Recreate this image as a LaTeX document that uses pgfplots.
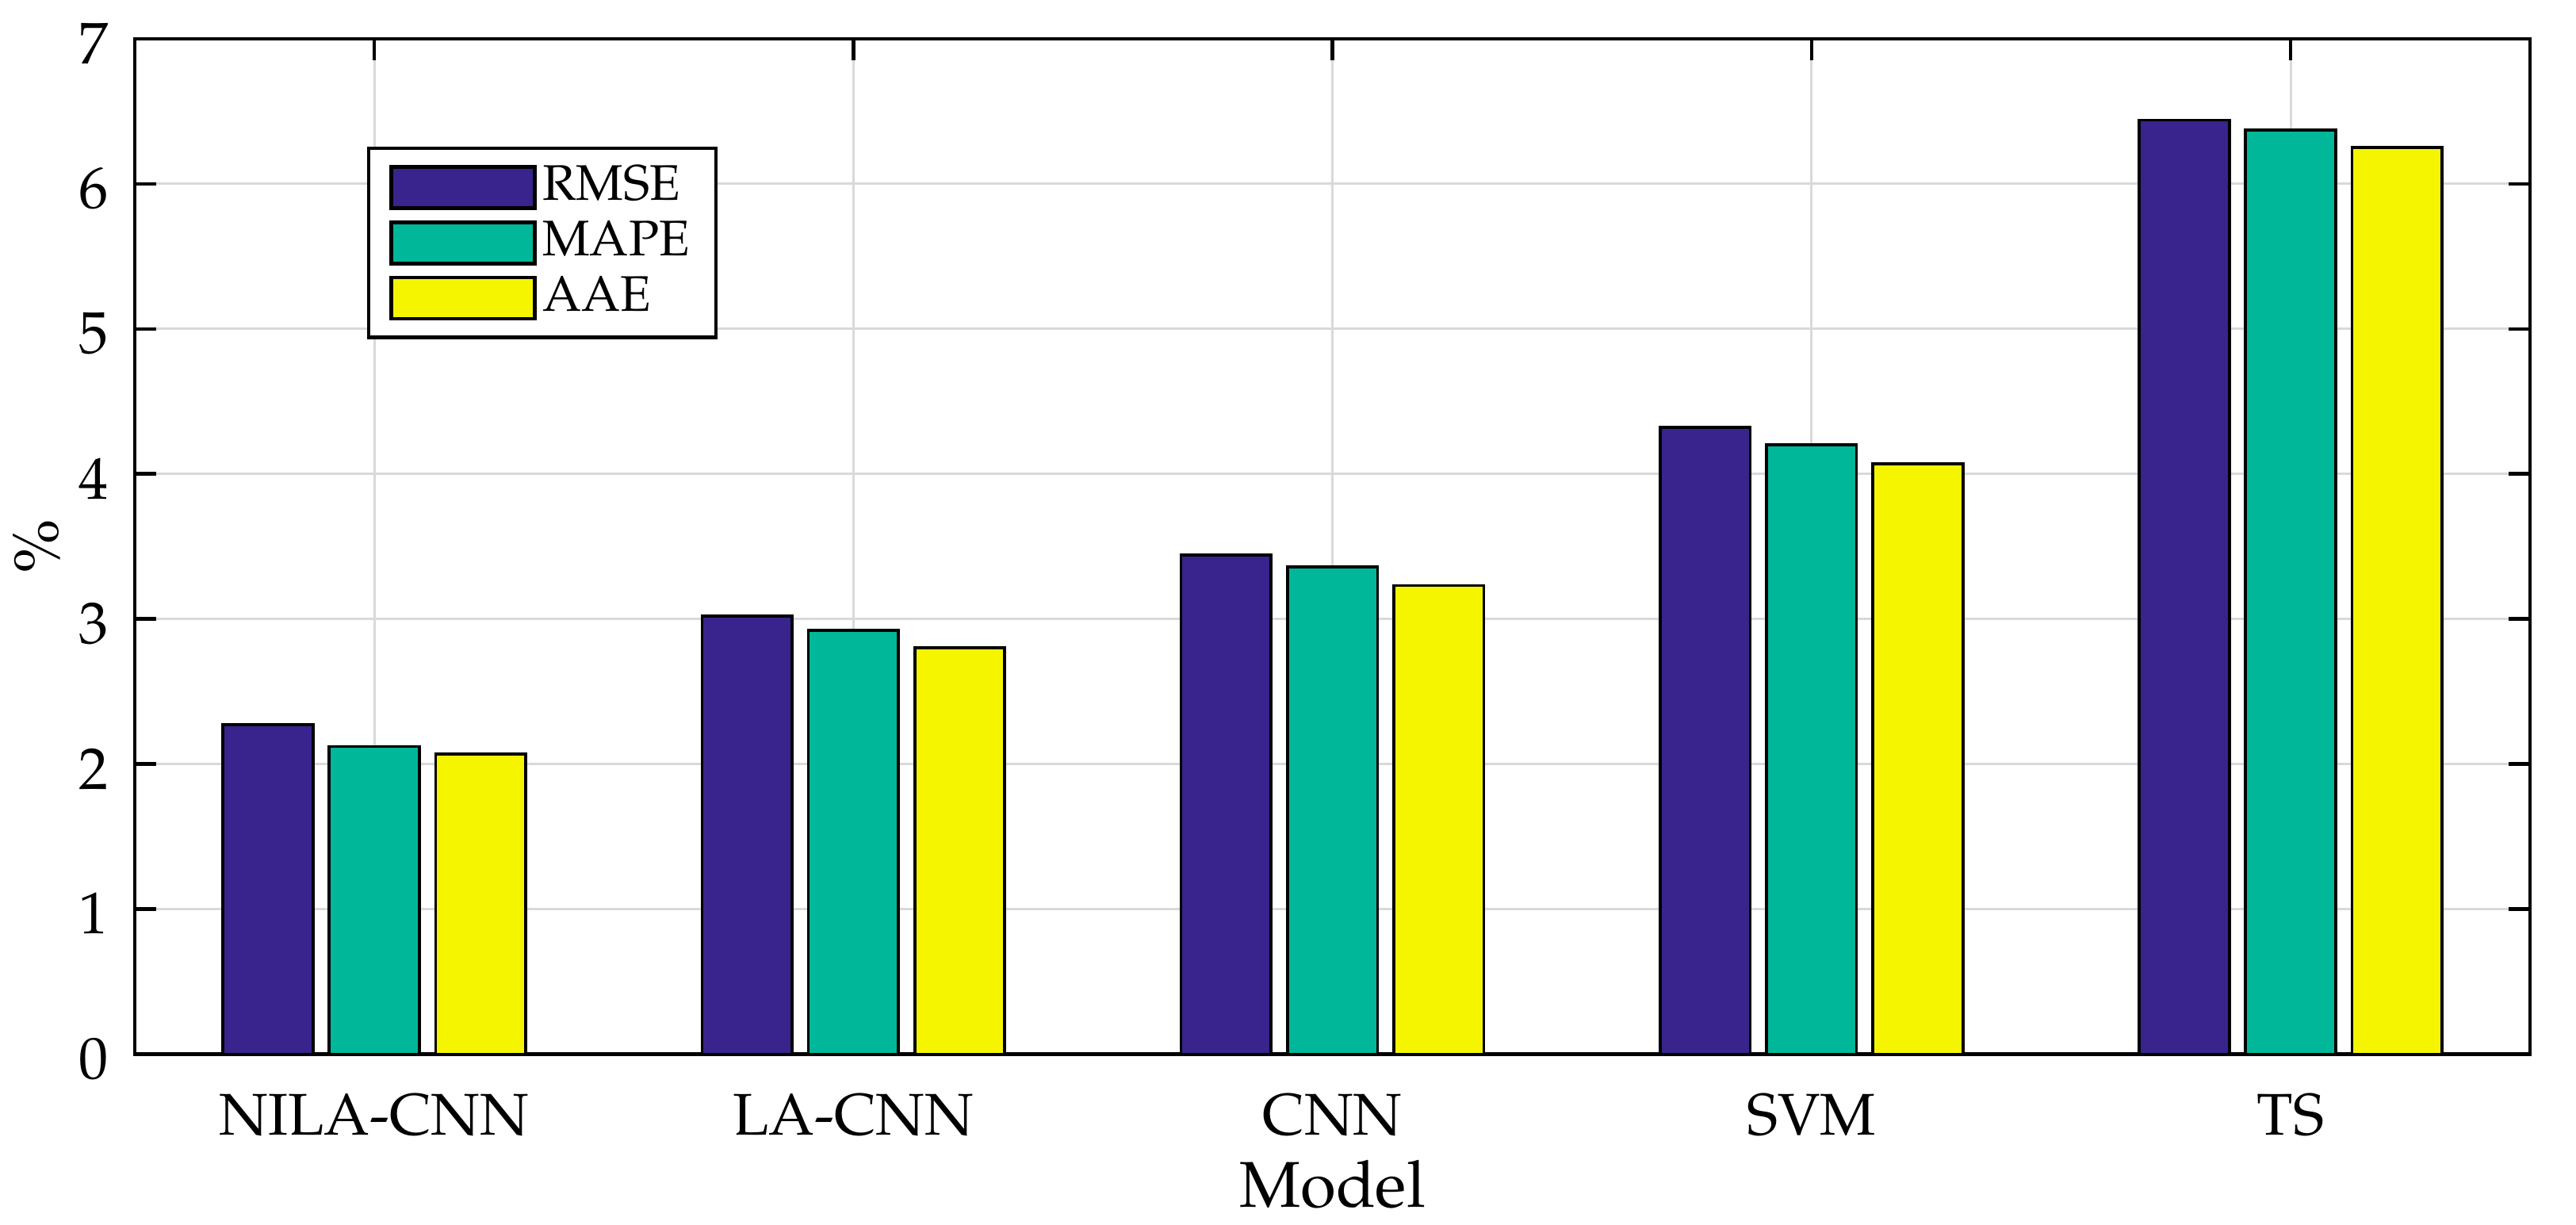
\documentclass[border=0pt]{standalone}
\usepackage[T1]{fontenc}
\usepackage{mathpazo}
\usepackage{pgfplots}
\pgfplotsset{compat=1.18}
\definecolor{crmse}{RGB}{56,36,140}
\definecolor{cmape}{RGB}{0,183,153}
\definecolor{caae}{RGB}{245,245,0}
\begin{document}
\begin{tikzpicture}
\pgfplotsset{
  boxleg/.style={legend image code/.code={\draw[##1,line width=0.6pt] (0pt,-3.5pt) rectangle (24.4pt,3.5pt);}},
}
\begin{axis}[
  name=ax,
  width=407pt, height=172.5pt, scale only axis,
  ybar, bar width=0.188,
  xmin=0.5, xmax=5.5, ymin=0, ymax=7,
  xtick={1,2,3,4,5},
  xticklabels={NILA-CNN,LA-CNN,CNN,SVM,TS},
  ytick={0,1,2,3,4,5,6,7},
  /pgf/number format/assume math mode=true,
  tick align=inside, major tick length=3.6pt,
  tick style={black, line width=0.6pt},
  xmajorgrids, ymajorgrids,
  grid style={black!15, line width=0.4pt},
  axis line style={line width=0.6pt},
  ticklabel style={font=\fontsize{10}{12}\selectfont},
  yticklabel style={xshift=-1pt, yshift=-0.8pt},
  xticklabel style={yshift=-3.3pt},
  xlabel={Model},
  xlabel style={at={(axis description cs:0.5,0)}, anchor=base, yshift=-26pt, font=\fontsize{11}{13}\selectfont},
  ylabel={\%},
  ylabel style={at={(axis description cs:0,0.5)}, anchor=center, yshift=16.6pt, font=\fontsize{11}{13}\selectfont},
  legend style={at={(0.097,0.894)}, anchor=north west, draw=black, line width=0.6pt,
    font=\fontsize{8.5}{9}\selectfont, inner xsep=3.5pt, inner ysep=2pt,
    row sep=0pt, nodes={inner sep=1pt}},
  legend cell align=left,
]
\addplot[fill=crmse, draw=black, line width=0.5pt, bar shift=-0.222, boxleg]
  coordinates {(1,2.27) (2,3.02) (3,3.44) (4,4.32) (5,6.44)};
\addplot[fill=cmape, draw=black, line width=0.5pt, bar shift=0, boxleg]
  coordinates {(1,2.12) (2,2.92) (3,3.36) (4,4.20) (5,6.37)};
\addplot[fill=caae, draw=black, line width=0.5pt, bar shift=0.222, boxleg]
  coordinates {(1,2.07) (2,2.80) (3,3.23) (4,4.07) (5,6.25)};
\legend{RMSE,MAPE,AAE}
\end{axis}
\pgfresetboundingbox
\path ([shift={(-22.9pt,-29pt)}]ax.south west) rectangle ([shift={(7.8pt,6.6pt)}]ax.north east);
\end{tikzpicture}
\end{document}
